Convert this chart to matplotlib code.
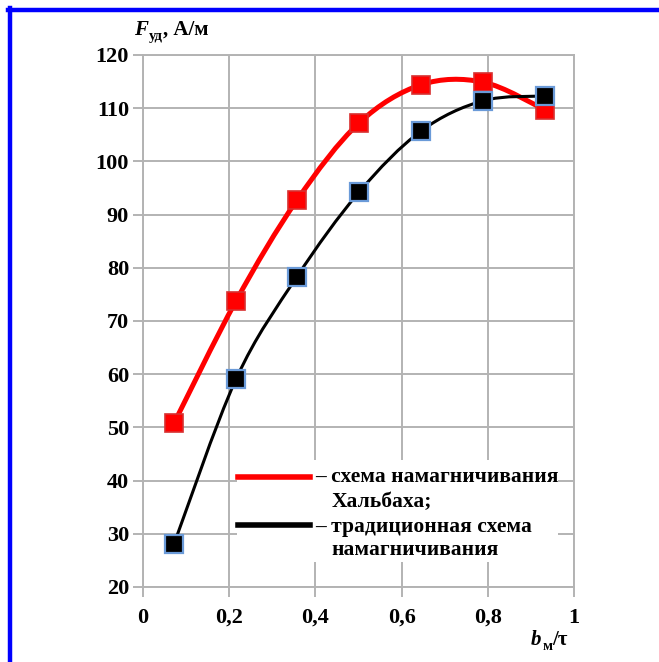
import matplotlib.pyplot as plt
from matplotlib.path import Path
from matplotlib.patches import PathPatch, Rectangle
from matplotlib.lines import Line2D

# данные
x_vals = [0.072, 0.216, 0.357, 0.501, 0.645, 0.789, 0.933]
halbach = [50.8, 73.8, 92.7, 107.2, 114.4, 114.9, 109.7]
tradition = [28.1, 59.1, 78.3, 94.2, 105.7, 111.4, 112.3]
x_ticks = [0, 0.2, 0.4, 0.6, 0.8, 1.0]
x_labels = ['0', '0,2', '0,4', '0,6', '0,8', '1']
y_ticks = [20, 30, 40, 50, 60, 70, 80, 90, 100, 110, 120]

plt.rcParams['font.family'] = ['Liberation Serif', 'DejaVu Serif']
plt.rcParams['font.weight'] = 'bold'


def smooth_path(xs, ys):
    # сглаживание как в Excel: кубические кривые Безье
    pts = list(zip(xs, ys))
    n = len(pts)
    verts = [pts[0]]
    codes = [Path.MOVETO]
    for i in range(n - 1):
        p0 = pts[max(i - 1, 0)]
        p1 = pts[i]
        p2 = pts[i + 1]
        p3 = pts[min(i + 2, n - 1)]
        c1 = (p1[0] + (p2[0] - p0[0]) / 6, p1[1] + (p2[1] - p0[1]) / 6)
        c2 = (p2[0] - (p3[0] - p1[0]) / 6, p2[1] - (p3[1] - p1[1]) / 6)
        verts += [c1, c2, p2]
        codes += [Path.CURVE4] * 3
    return Path(verts, codes)


fig = plt.figure(figsize=(6.59, 6.62), dpi=100)
ax = fig.add_axes([143 / 659, 1 - 587 / 662, 431 / 659, 532 / 662])

grid_c = '#b3b3b3'
ax.set_xlim(0, 1)
ax.set_ylim(20, 120)
ax.set_xticks(x_ticks)
ax.set_xticklabels(x_labels)
ax.set_yticks(y_ticks)
ax.grid(True, color=grid_c, linewidth=1.4)
for s in ax.spines.values():
    s.set_color(grid_c)
    s.set_linewidth(1.4)
ax.tick_params(direction='out', length=7, width=1.4, color=grid_c,
               labelsize=16, pad=3)
ax.tick_params(axis='x', pad=8)
for lab in ax.get_xticklabels() + ax.get_yticklabels():
    lab.set_fontweight('bold')

ax.add_patch(PathPatch(smooth_path(x_vals, halbach), facecolor='none',
                       edgecolor='#ff0000', linewidth=3.6, zorder=3))
ax.add_patch(PathPatch(smooth_path(x_vals, tradition), facecolor='none',
                       edgecolor='black', linewidth=2.2, zorder=3))
ax.plot(x_vals, halbach, 's', ms=13, mfc='#ff0000', mec='#d83030', mew=1.2,
        zorder=4, linestyle='none')
ax.plot(x_vals, tradition, 's', ms=12.5, mfc='black', mec='#6a9ad8', mew=1.6,
        zorder=4, linestyle='none')

# легенда
ax.add_patch(Rectangle((0.218, 0.047), 0.745, 0.192, transform=ax.transAxes,
                       facecolor='white', edgecolor='none', zorder=2))
ax.add_line(Line2D([0.221, 0.387], [0.207, 0.207], transform=ax.transAxes,
                   color='#ff0000', linewidth=4, zorder=5))
ax.add_line(Line2D([0.221, 0.387], [0.1165, 0.1165], transform=ax.transAxes,
                   color='black', linewidth=4, zorder=5))
fs = 15.5
ax.text(0.399, 0.207, '– схема намагничивания', transform=ax.transAxes,
        fontsize=fs, fontweight='bold', va='center', zorder=6)
ax.text(0.437, 0.160, 'Хальбаха;', transform=ax.transAxes,
        fontsize=fs, fontweight='bold', va='center', zorder=6)
ax.text(0.399, 0.113, '– традиционная схема', transform=ax.transAxes,
        fontsize=fs, fontweight='bold', va='center', zorder=6)
ax.text(0.437, 0.069, 'намагничивания', transform=ax.transAxes,
        fontsize=fs, fontweight='bold', va='center', zorder=6)

# подписи осей
t1 = fig.text(134 / 659, 1 - 35 / 662, 'F', fontsize=15, fontweight='bold',
              style='italic', va='baseline')
t2 = ax.annotate('уд', xy=(1, 0), xycoords=t1, xytext=(0.5, -2),
                 textcoords='offset points', fontsize=10.5, fontweight='bold',
                 va='bottom', annotation_clip=False)
ax.annotate(', А/м', xy=(1, 0), xycoords=t2, xytext=(0, 2),
            textcoords='offset points', fontsize=15, fontweight='bold',
            va='bottom', annotation_clip=False)

t3 = fig.text(531 / 659, 1 - 645 / 662, 'b', fontsize=15, fontweight='bold',
              style='italic', va='baseline')
t4 = ax.annotate('м', xy=(1, 0), xycoords=t3, xytext=(0.5, -2),
                 textcoords='offset points', fontsize=10.5, fontweight='bold',
                 va='bottom', annotation_clip=False)
ax.annotate('/τ', xy=(1, 0), xycoords=t4, xytext=(0, 2),
            textcoords='offset points', fontsize=15, fontweight='bold',
            va='bottom', annotation_clip=False)

# синяя рамка
fig.add_artist(Line2D([10 / 659, 10 / 659], [0, 1 - 8 / 662],
                      transform=fig.transFigure, color='#0000ff', linewidth=3.2))
fig.add_artist(Line2D([8 / 659, 1], [1 - 10 / 662, 1 - 10 / 662],
                      transform=fig.transFigure, color='#0000ff', linewidth=3.2))

fig.savefig('out.png', dpi=100)
